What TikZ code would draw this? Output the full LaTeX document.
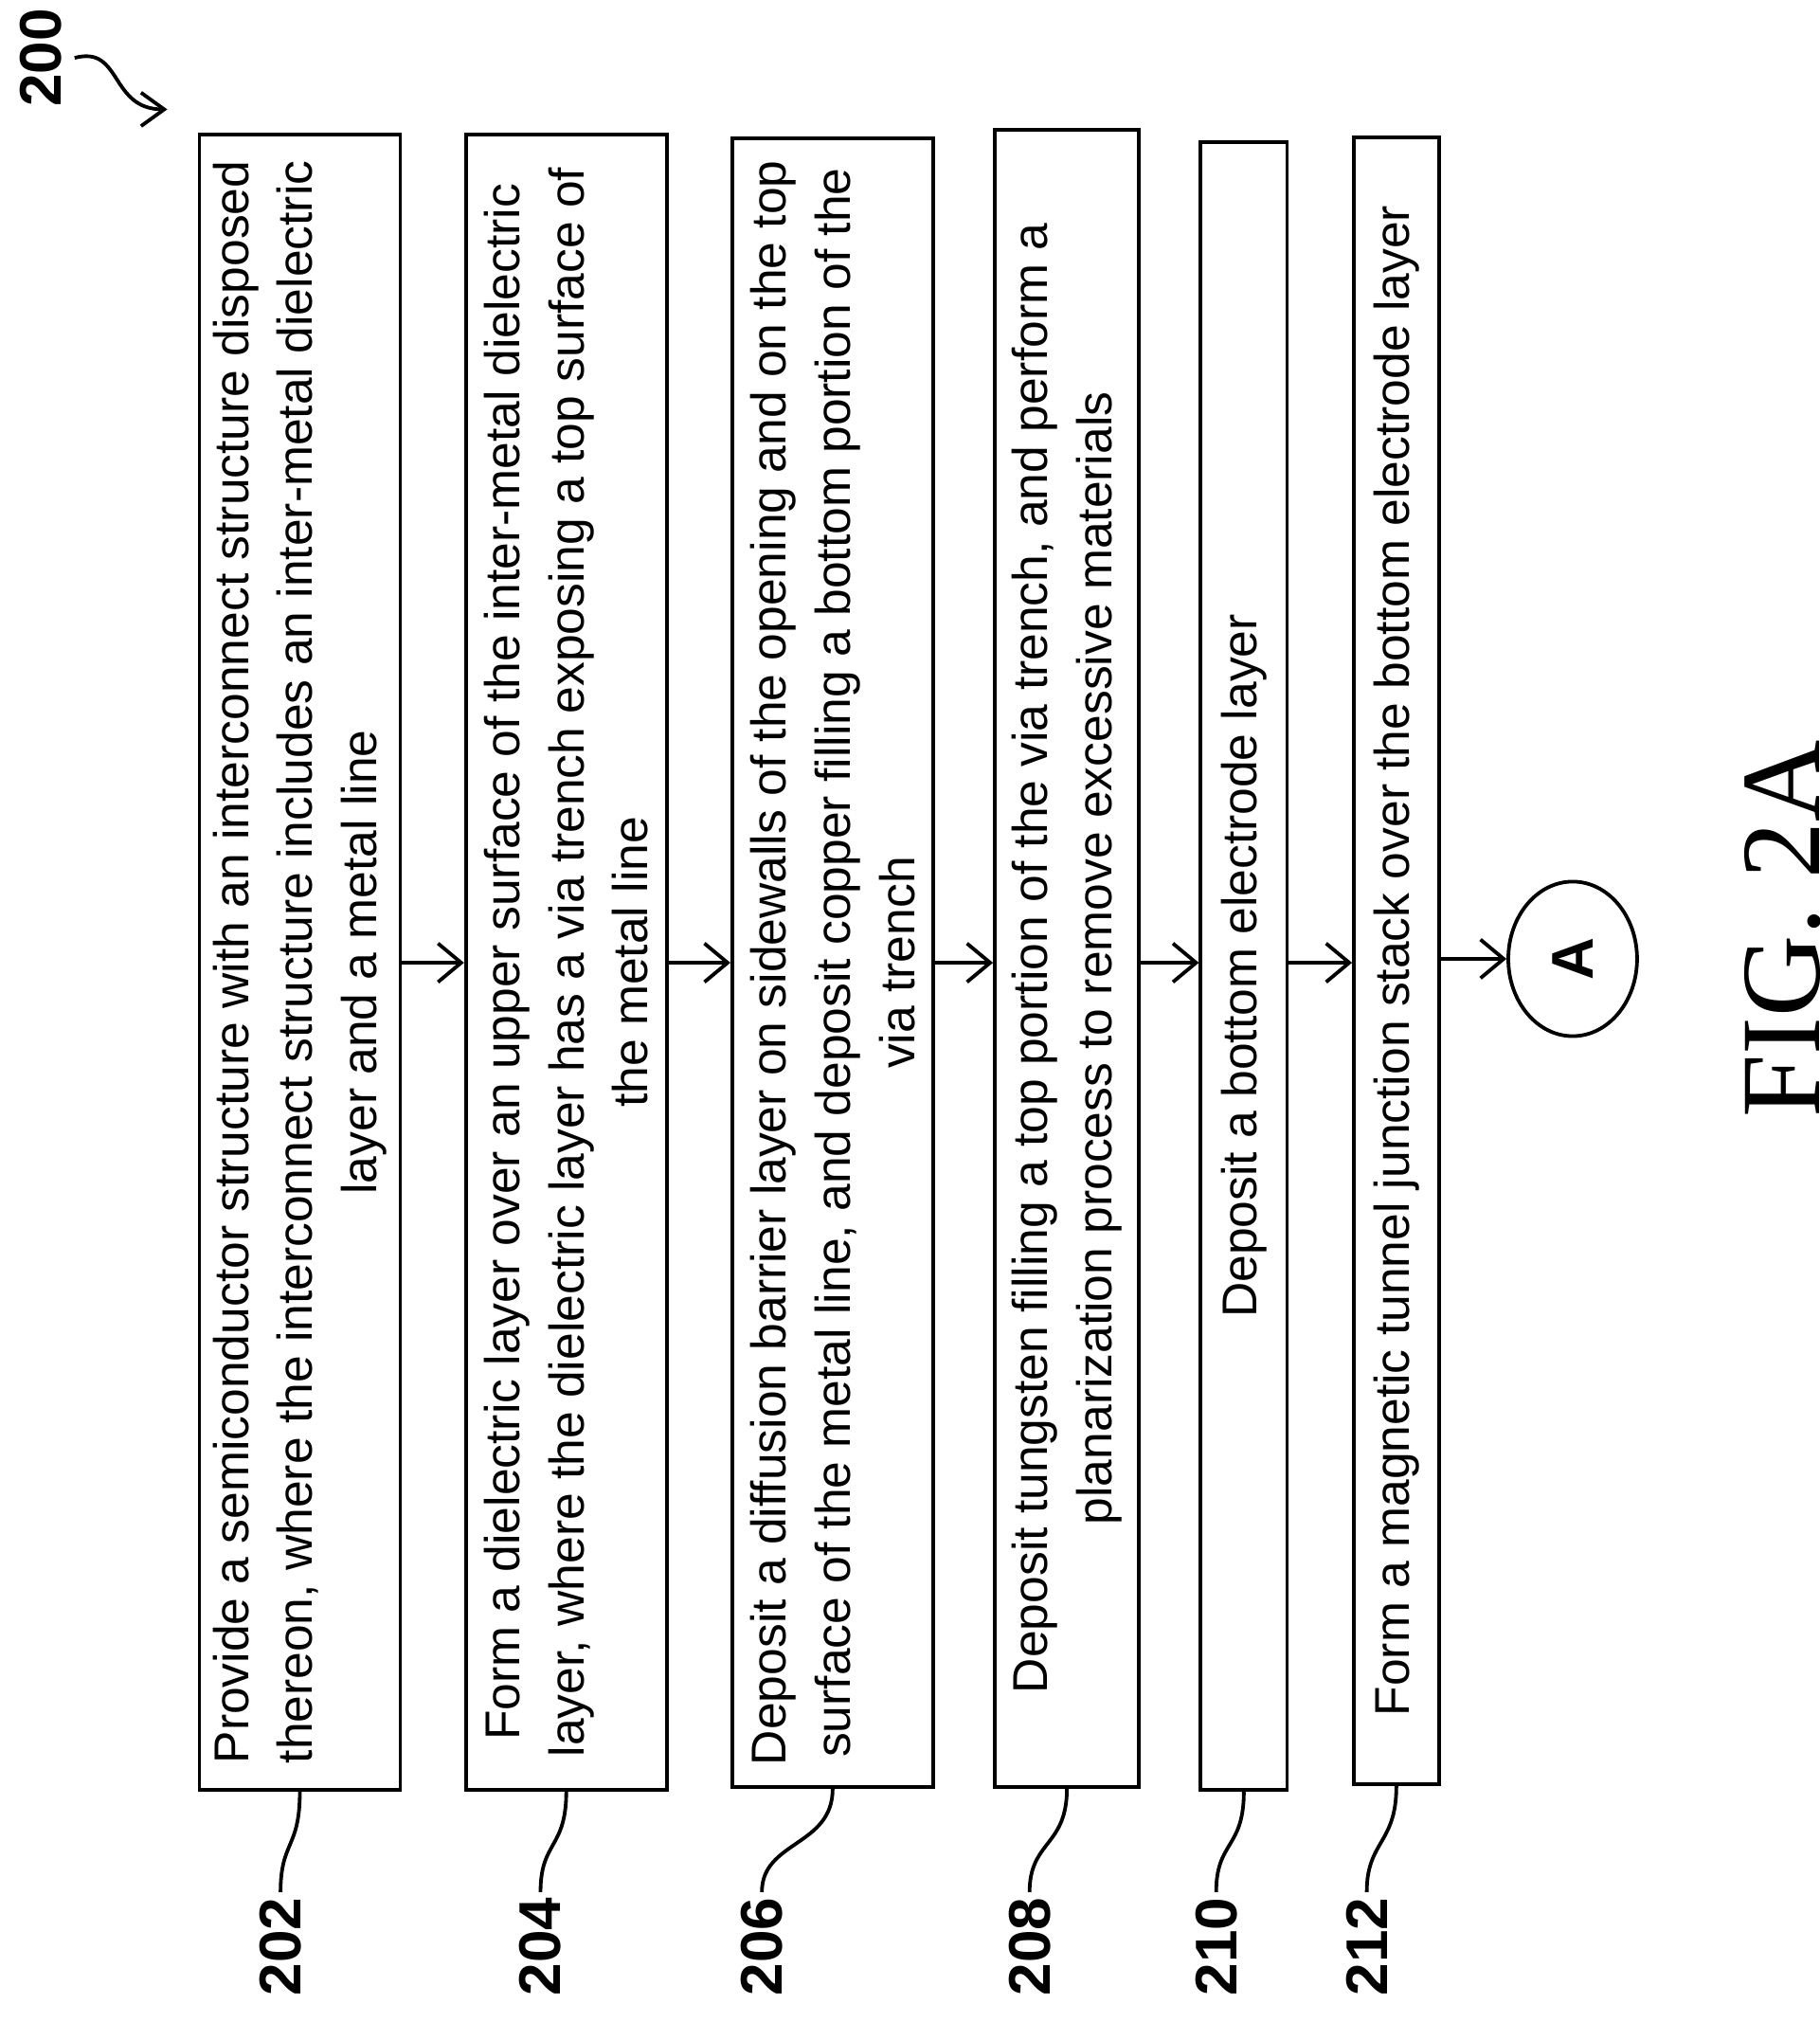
\documentclass[tikz,border=0pt]{standalone}
\usepackage{fontspec}
\setmainfont{Liberation Sans}
\newfontfamily\figfont{Liberation Serif}
\usetikzlibrary{arrows.meta,shapes.geometric}
\tikzset{
  procbox/.style={draw, thick, rotate=90, inner sep=0pt, align=center,
    font=\fontsize{10.8}{14.2}\selectfont},
  tag/.style={rotate=90, anchor=east, font=\fontsize{13}{15}\selectfont\bfseries, inner sep=1pt},
  flow/.style={thick, -{Straight Barb[length=1.8mm, width=3mm]}},
  lead/.style={thick}
}
\begin{document}
\begin{tikzpicture}[x=0.01cm, y=-0.01cm]
  \useasboundingbox (0,0) rectangle (1414,1571);
  % steps
  \node[procbox, minimum width=12.85cm, minimum height=1.56cm] (b202) at (233,747.5) {Provide a semiconductor structure with an interconnect structure disposed\\ thereon, where the interconnect structure includes an inter-metal dielectric\\ layer and a metal line};
  \node[procbox, minimum width=12.85cm, minimum height=1.56cm] (b204) at (440,747.5) {Form a dielectric layer over an upper surface of the inter-metal dielectric\\ layer, where the dielectric layer has a via trench exposing a top surface of\\ the metal line};
  \node[procbox, minimum width=12.8cm, minimum height=1.56cm] (b206) at (647,748) {Deposit a diffusion barrier layer on sidewalls of the opening and on the top\\ surface of the metal line, and deposit copper filling a bottom portion of the\\ via trench};
  \node[procbox, minimum width=12.87cm, minimum height=1.12cm] (b208) at (829,744.5) {Deposit tungsten filling a top portion of the via trench, and perform a\\ planarization process to remove excessive materials};
  \node[procbox, minimum width=12.79cm, minimum height=0.67cm] (b210) at (966.5,750.5) {Deposit a bottom electrode layer};
  \node[procbox, minimum width=12.79cm, minimum height=0.66cm] (b212) at (1085,746.5) {Form a magnetic tunnel junction stack over the bottom electrode layer};
  \node[draw, thick, ellipse, minimum width=1cm, minimum height=1.2cm, inner sep=0pt,
    font=\fontsize{13}{15}\selectfont\bfseries] (A) at (1222,745) {\rotatebox{90}{A}};
  % arrows
  \draw[flow] (b202.south |- 0,748) -- (b204.north |- 0,748);
  \draw[flow] (b204.south |- 0,748) -- (b206.north |- 0,748);
  \draw[flow] (b206.south |- 0,748) -- (b208.north |- 0,748);
  \draw[flow] (b208.south |- 0,748) -- (b210.north |- 0,748);
  \draw[flow] (b210.south |- 0,748) -- (b212.north |- 0,748);
  \draw[flow] (b212.south |- 0,745) -- (A.west);
  % reference numerals
  \foreach \n/\x in {202/218, 204/420, 206/592, 208/800, 210/945, 212/1062}{
    \node[tag] (l\n) at (\x,1470) {\n};
    \draw[lead] (b\n.west) .. controls +(0,45) and +(0,-40) .. (l\n.east);
  }
  \node[tag, anchor=center] (n200) at (32,45) {200};
  \coordinate (p200) at (130,85);
  \draw[thick, -{Straight Barb[length=1.8mm, width=2.6mm]}] (58,45) .. controls (95,35) and (85,85) .. (p200);
  \node[rotate=90, font=\figfont\fontsize{25}{28}\selectfont] (fig) at (1385,722) {FIG. 2A};
\end{tikzpicture}
\end{document}
